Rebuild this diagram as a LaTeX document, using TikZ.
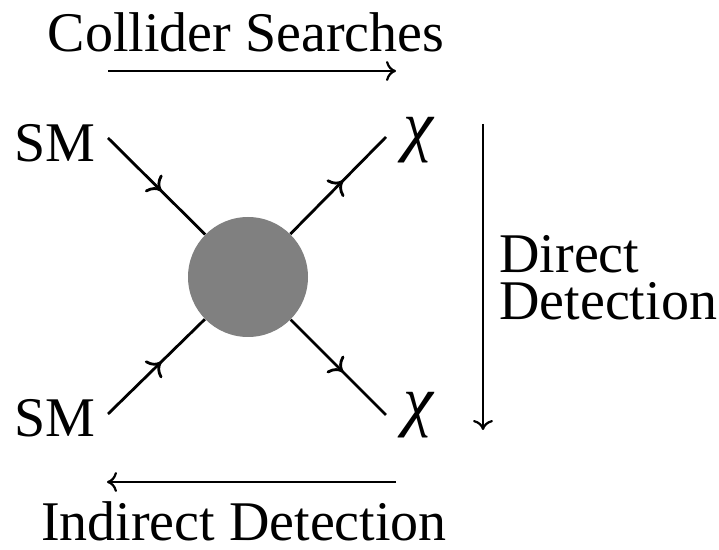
\documentclass[tikz,border=0pt]{standalone}
\usepackage{fontspec}
\setmainfont{Liberation Serif}
\usetikzlibrary{arrows.meta,decorations.markings}

\tikzset{
	fermion/.style={line width=1.4pt, postaction={decorate},
		decoration={markings, mark=at position 0.55 with {\arrow{To[length=6pt,width=12pt]}}}},
	flow/.style={line width=1.1pt, -{To[length=5pt,width=10pt]}},
	lbl/.style={font=\fontsize{28}{23.5}\selectfont, inner sep=0pt},
	chi/.style={font=\fontsize{34}{34}\selectfont\itshape, inner sep=0pt}
}

\begin{document}
\begin{tikzpicture}[x=0.5pt,y=-0.5pt]
			\useasboundingbox (0,0) rectangle (719,550);
			% vertex
			\node[circle, fill=black!50, minimum size=60pt, inner sep=0pt] (blob) at (248,277) {};
			% external legs
			\coordinate (tl) at (108,138);
			\coordinate (bl) at (108,414);
			\coordinate (tr) at (386,137);
			\coordinate (br) at (386,415);
			\draw[fermion] (tl) -- (blob);
			\draw[fermion] (bl) -- (blob);
			\draw[fermion] (blob) -- (tr);
			\draw[fermion] (blob) -- (br);
			% particle labels
			\node[lbl] (smtop) at (55,143) {SM};
			\node[lbl] (smbot) at (55,418) {SM};
			\node[chi] (chitop) at (418,140) {χ};
			\node[chi] (chibot) at (418,415) {χ};
			% processes
			\node[lbl] (collider) at (246,32) {Collider Searches};
			\coordinate (ca) at (108,71);
			\coordinate (cb) at (396,71);
			\draw[flow] (ca) -- (cb);
			\coordinate (da) at (483,124);
			\coordinate (db) at (483,430);
			\draw[flow] (da) -- (db);
			\node[lbl, anchor=west, align=left] (direct) at (499,278) {Direct\\Detection};
			\coordinate (ia) at (396,482);
			\coordinate (ib) at (107,482);
			\draw[flow] (ia) -- (ib);
			\node[lbl] (indirect) at (244,521) {Indirect Detection};
		\end{tikzpicture}
\end{document}
